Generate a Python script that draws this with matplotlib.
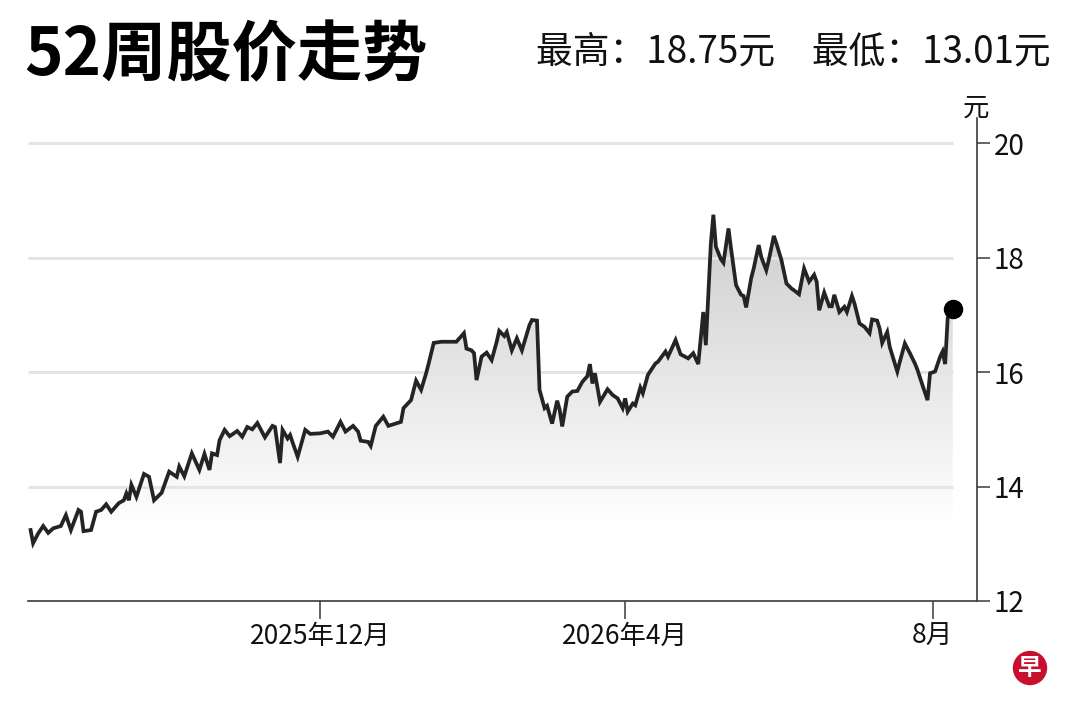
import numpy as np
import pandas as pd
import matplotlib
matplotlib.use("Agg")
import matplotlib.pyplot as plt
import matplotlib.dates as mdates

plt.rcParams['font.family'] = ['Noto Sans CJK SC', 'DejaVu Sans']

# 52-week closing prices
dates = [
    "2025-08-08", "2025-08-09", "2025-08-11", "2025-08-13", "2025-08-15", "2025-08-17",
    "2025-08-20", "2025-08-22", "2025-08-24", "2025-08-27", "2025-08-28", "2025-08-29",
    "2025-09-01", "2025-09-03", "2025-09-05", "2025-09-07", "2025-09-09", "2025-09-12",
    "2025-09-14", "2025-09-15", "2025-09-16", "2025-09-17", "2025-09-19", "2025-09-22",
    "2025-09-24", "2025-09-26", "2025-09-29", "2025-10-02", "2025-10-05", "2025-10-06",
    "2025-10-08", "2025-10-11", "2025-10-14", "2025-10-16", "2025-10-18", "2025-10-19",
    "2025-10-21", "2025-10-22", "2025-10-24", "2025-10-26", "2025-10-29", "2025-10-31",
    "2025-11-02", "2025-11-04", "2025-11-06", "2025-11-09", "2025-11-12", "2025-11-13",
    "2025-11-15", "2025-11-16", "2025-11-18", "2025-11-19", "2025-11-20", "2025-11-22",
    "2025-11-25", "2025-11-27", "2025-12-01", "2025-12-04", "2025-12-06", "2025-12-09",
    "2025-12-11", "2025-12-14", "2025-12-16", "2025-12-17", "2025-12-20", "2025-12-21",
    "2025-12-23", "2025-12-26", "2025-12-28", "2026-01-02", "2026-01-03", "2026-01-06",
    "2026-01-08", "2026-01-10", "2026-01-12", "2026-01-13", "2026-01-15", "2026-01-18",
    "2026-01-24", "2026-01-27", "2026-01-28", "2026-01-30", "2026-01-31", "2026-02-01",
    "2026-02-03", "2026-02-05", "2026-02-07", "2026-02-09", "2026-02-10", "2026-02-12",
    "2026-02-13", "2026-02-15", "2026-02-17", "2026-02-19", "2026-02-22", "2026-02-23",
    "2026-02-25", "2026-02-26", "2026-02-28", "2026-03-01", "2026-03-03", "2026-03-05",
    "2026-03-06", "2026-03-07", "2026-03-09", "2026-03-11", "2026-03-13", "2026-03-15",
    "2026-03-17", "2026-03-18", "2026-03-19", "2026-03-20", "2026-03-22", "2026-03-25",
    "2026-03-27", "2026-03-29", "2026-03-31", "2026-04-01", "2026-04-02", "2026-04-04",
    "2026-04-05", "2026-04-07", "2026-04-08", "2026-04-10", "2026-04-13", "2026-04-14",
    "2026-04-17", "2026-04-18", "2026-04-21", "2026-04-23", "2026-04-26", "2026-04-28",
    "2026-04-30", "2026-05-02", "2026-05-03", "2026-05-05", "2026-05-06", "2026-05-07",
    "2026-05-09", "2026-05-10", "2026-05-12", "2026-05-13", "2026-05-15", "2026-05-17",
    "2026-05-18", "2026-05-19", "2026-05-21", "2026-05-22", "2026-05-24", "2026-05-25",
    "2026-05-27", "2026-05-28", "2026-05-30", "2026-05-31", "2026-06-02", "2026-06-04",
    "2026-06-06", "2026-06-07", "2026-06-09", "2026-06-11", "2026-06-13", "2026-06-15",
    "2026-06-16", "2026-06-17", "2026-06-19", "2026-06-21", "2026-06-22", "2026-06-23",
    "2026-06-25", "2026-06-27", "2026-06-28", "2026-06-30", "2026-07-01", "2026-07-03",
    "2026-07-05", "2026-07-07", "2026-07-08", "2026-07-10", "2026-07-11", "2026-07-12",
    "2026-07-14", "2026-07-15", "2026-07-18", "2026-07-19", "2026-07-21", "2026-07-23",
    "2026-07-25", "2026-07-26", "2026-07-28", "2026-07-30", "2026-07-31", "2026-08-02",
    "2026-08-04", "2026-08-05", "2026-08-06", "2026-08-07", "2026-08-09",
]
prices = [
    13.24, 13.01, 13.18, 13.31, 13.19, 13.27,
    13.31, 13.50, 13.24, 13.59, 13.56, 13.22,
    13.24, 13.56, 13.59, 13.69, 13.56, 13.71,
    13.76, 13.88, 13.76, 14.03, 13.82, 14.22,
    14.17, 13.76, 13.89, 14.26, 14.17, 14.35,
    14.18, 14.58, 14.29, 14.57, 14.29, 14.58,
    14.55, 14.81, 14.99, 14.88, 14.97, 14.87,
    15.04, 15.00, 15.11, 14.86, 15.06, 15.04,
    14.41, 14.99, 14.84, 14.90, 14.77, 14.52,
    14.99, 14.92, 14.93, 14.96, 14.87, 15.13,
    14.96, 15.06, 14.96, 14.80, 14.78, 14.71,
    15.06, 15.22, 15.06, 15.13, 15.37, 15.51,
    15.85, 15.69, 15.98, 16.15, 16.51, 16.53,
    16.53, 16.68, 16.41, 16.38, 16.33, 15.86,
    16.27, 16.34, 16.21, 16.53, 16.72, 16.63,
    16.70, 16.38, 16.59, 16.38, 16.82, 16.91,
    16.90, 15.69, 15.37, 15.41, 15.10, 15.50,
    15.34, 15.05, 15.57, 15.66, 15.67, 15.83,
    15.93, 16.14, 15.80, 15.98, 15.48, 15.70,
    15.60, 15.54, 15.37, 15.54, 15.31, 15.45,
    15.42, 15.73, 15.63, 15.95, 16.15, 16.18,
    16.36, 16.27, 16.56, 16.31, 16.24, 16.33,
    16.14, 17.05, 16.47, 18.25, 18.75, 18.19,
    17.97, 17.91, 18.51, 18.16, 17.52, 17.35,
    17.33, 17.13, 17.64, 17.81, 18.22, 18.01,
    17.78, 17.96, 18.38, 18.25, 17.96, 17.55,
    17.46, 17.43, 17.36, 17.81, 17.58, 17.70,
    17.58, 17.08, 17.39, 17.15, 17.15, 17.35,
    17.05, 17.14, 17.05, 17.33, 17.20, 16.85,
    16.79, 16.68, 16.92, 16.90, 16.76, 16.51,
    16.70, 16.44, 16.01, 16.18, 16.50, 16.33,
    16.15, 16.04, 15.77, 15.51, 15.98, 16.01,
    16.27, 16.36, 16.14, 16.95, 17.10,
]

title = "52周股价走势"
summary = "最高：18.75元　最低：13.01元"
xtick_dates = ["2025-12-01", "2026-04-01", "2026-08-01"]
xtick_labels = ["2025年12月", "2026年4月", "8月"]
yticks = [12, 14, 16, 18, 20]

x = mdates.date2num(pd.to_datetime(dates))
y = np.array(prices)

fig = plt.figure(figsize=(10.8, 7.2), dpi=100)
ax = fig.add_axes([0.026, 0.1653, 0.8787, 0.6708])

x_left = mdates.date2num(pd.Timestamp("2025-08-07"))
x_right = mdates.date2num(pd.Timestamp("2026-08-18 16:00"))
ax.set_xlim(x_left, x_right)
ax.set_ylim(12, 20.44)

# gridlines only as far as the data goes
ax.hlines([14, 16, 18, 20], x_left, x[-1], color='#e4e4e4', lw=2.2, zorder=2)

# gradient fill under the line
poly = ax.fill_between(x, y, 12, color='none', lw=0)
ys = np.linspace(12, 19.2, 300)
shade = np.clip((ys - 13.3) / (19.2 - 13.3), 0, 1)
val = 1 - shade * (54 / 255)
grad = np.dstack([val, val, val, np.ones_like(val)]).reshape(-1, 1, 4)
im = ax.imshow(grad, extent=[x[0], x[-1], 12, 19.2], origin='lower',
               aspect='auto', zorder=1, interpolation='bilinear')
im.set_clip_path(poly.get_paths()[0], transform=ax.transData)

ax.plot(x, y, color='#242424', lw=2.7, zorder=3, solid_joinstyle='miter')
ax.plot(x[-1], y[-1], 'o', color='black', ms=13, zorder=4)

for s in ['left', 'top']:
    ax.spines[s].set_visible(False)
for s in ['right', 'bottom']:
    ax.spines[s].set_color('#3a3a3a')
    ax.spines[s].set_linewidth(1.2)

ax.yaxis.tick_right()
ax.set_yticks(yticks)
ax.set_yticklabels([str(v) for v in yticks])
ax.tick_params(axis='y', direction='out', length=9, width=1.1, color='#3a3a3a',
               pad=3, labelsize=20, labelcolor='#111111')

ax.set_xticks(mdates.date2num(pd.to_datetime(xtick_dates)))
ax.set_xticklabels(xtick_labels)
ax.tick_params(axis='x', direction='out', length=13, width=1.1, color='#3a3a3a',
               pad=3, labelsize=19, labelcolor='#111111')

fig.text(0.022, 0.922, title, fontsize=47, fontweight='bold', va='center', ha='left',
         color='black')
fig.text(0.973, 0.928, summary, fontsize=26.5, va='center', ha='right', color='#111111')
fig.text(0.904, 0.850, "元", fontsize=19, va='center', ha='center', color='#111111')

fig.text(0.9537, 0.0722, "早", fontsize=17, fontweight='bold', color='white',
         ha='center', va='center',
         bbox=dict(boxstyle='circle,pad=0.22', fc='#c8102e', ec='none'))

fig.savefig("out.png", dpi=100)
